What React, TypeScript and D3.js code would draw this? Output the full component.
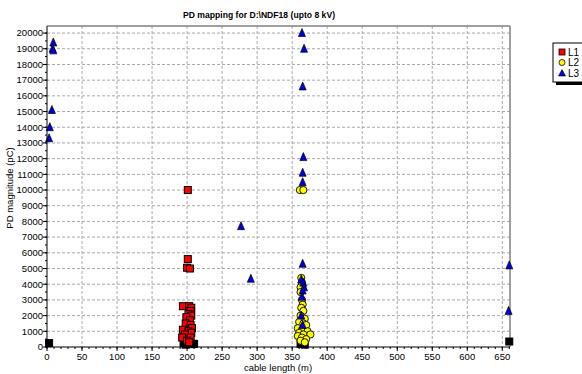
import React from "react";
import * as d3 from "d3";

// PD mapping data: [cable length (m), magnitude (pC)]
const l1Points: [number, number][] = [
  [201, 10000], [201, 5600], [200, 5050], [204, 5000],
  [194, 2600], [203, 2600], [206, 2500], [205, 2300], [202, 2100], [206, 2000],
  [199, 1900], [204, 1700], [198, 1500], [205, 1400], [207, 1200], [194, 1100],
  [202, 1000], [206, 900], [197, 800], [193, 600], [205, 600], [200, 400], [203, 300],
];
const l2Points: [number, number][] = [
  [361, 10000], [366, 10000],
  [363, 4400], [364, 4100], [362, 3800], [362, 3500], [364, 3000], [365, 2700],
  [363, 2500], [366, 2300], [362, 2000], [368, 1800], [360, 1600], [366, 1500],
  [370, 1400], [358, 1200], [364, 1100], [372, 1000], [360, 900], [366, 800],
  [376, 800], [358, 700], [364, 600], [370, 500], [362, 400], [368, 300],
];
const l3Points: [number, number][] = [
  [9, 19400], [8, 19000], [9, 18900], [7, 15100], [4, 14000], [3, 13300],
  [364, 20000], [367, 19000], [365, 16600], [366, 12100], [365, 11100], [365, 10500],
  [277, 7700], [291, 4350],
  [365, 5300], [363, 4300], [366, 4100], [367, 3800], [365, 3600], [364, 3200],
  [363, 2000], [365, 1400],
  [660, 5200], [659, 2300],
];
// unassigned low-level pulses drawn in black
const noisePoints: [number, number][] = [
  [3, 250], [195, 250], [200, 200], [205, 250], [210, 200], [198, 150], [207, 180],
  [362, 200], [366, 250], [368, 150], [660, 350],
];

const xTicks = d3.range(0, 651, 50);
const yTicks = d3.range(0, 20001, 1000);
const legendItems = ["L1", "L2", "L3"];

const W = 582;
const H = 374;
const left = 47, right = 510, top = 26, bottom = 347;

const x = d3.scaleLinear().domain([0, 661]).range([left, right]);
const y = d3.scaleLinear().domain([0, 20450]).range([bottom, top]);

const font = "'Liberation Sans', Arial, sans-serif";

const Square = ({ cx, cy, fill }: { cx: number; cy: number; fill: string }) => (
  <rect x={cx - 3.5} y={cy - 3.5} width={7} height={7} fill={fill} stroke="#000" strokeWidth={1} />
);
const Circle = ({ cx, cy }: { cx: number; cy: number }) => (
  <circle cx={cx} cy={cy} r={3.6} fill="#ffff00" stroke="#000" strokeWidth={0.9} />
);
const Tri = ({ cx, cy }: { cx: number; cy: number }) => (
  <path d={`M${cx},${cy - 4.5}L${cx + 3.5},${cy + 3.5}L${cx - 3.5},${cy + 3.5}Z`} fill="#0000dd" stroke="#000" strokeWidth={0.7} />
);

export default function App() {
  const minorX = d3.range(0, 661, 10);
  const minorY = d3.range(0, 20401, 500);
  return (
    <svg width={W} height={H} style={{ position: "absolute", left: 0, top: 0, background: "#fff" }} fontFamily={font}>
      <rect width={W} height={H} fill="#fff" />
      {/* grid */}
      {xTicks.filter((t) => t > 0).map((t) => (
        <line key={"gx" + t} x1={x(t)} x2={x(t)} y1={top} y2={bottom} stroke="#a8a8a8" strokeDasharray="3,2" />
      ))}
      {yTicks.filter((t) => t > 0).map((t) => (
        <line key={"gy" + t} x1={left} x2={right} y1={y(t)} y2={y(t)} stroke="#a8a8a8" strokeDasharray="3,2" />
      ))}
      {/* frame */}
      <line x1={left} x2={right} y1={top} y2={top} stroke="#808080" strokeWidth={1.5} />
      <line x1={right} x2={right} y1={top} y2={bottom} stroke="#808080" strokeWidth={1.5} />

      {/* points */}
      {noisePoints.map(([a, b], i) => <Square key={"n" + i} cx={x(a)} cy={y(b)} fill="#000" />)}
      {l1Points.map(([a, b], i) => <Square key={"a" + i} cx={x(a)} cy={y(b)} fill="#ff0000" />)}
      {l2Points.map(([a, b], i) => <Circle key={"b" + i} cx={x(a)} cy={y(b)} />)}
      {l3Points.map(([a, b], i) => <Tri key={"c" + i} cx={x(a)} cy={y(b)} />)}

      {/* axes */}
      <line x1={left} x2={left} y1={top} y2={bottom} stroke="#000" />
      <line x1={left} x2={right} y1={bottom} y2={bottom} stroke="#000" />
      {minorY.map((t) => (
        <line key={"my" + t} x1={left - 2} x2={left} y1={y(t)} y2={y(t)} stroke="#000" />
      ))}
      {minorX.map((t) => (
        <line key={"mx" + t} x1={x(t)} x2={x(t)} y1={bottom} y2={bottom + 2} stroke="#000" />
      ))}
      {yTicks.map((t) => (
        <g key={"ty" + t}>
          <line x1={left - 4} x2={left} y1={y(t)} y2={y(t)} stroke="#000" />
          <text x={left - 4} y={y(t)} dy="0.35em" textAnchor="end" fontSize={9.5} fill="#000">{t}</text>
        </g>
      ))}
      {xTicks.map((t) => (
        <g key={"tx" + t}>
          <line x1={x(t)} x2={x(t)} y1={bottom} y2={bottom + 4} stroke="#000" />
          <text x={x(t)} y={bottom + 13} textAnchor="middle" fontSize={9.5} fill="#000">{t}</text>
        </g>
      ))}

      {/* titles */}
      <text x={259} y={18} textAnchor="middle" fontSize={9.5} fontWeight="bold" textLength={152} lengthAdjust="spacingAndGlyphs">PD mapping for D:\NDF18 (upto 8 kV)</text>
      <text x={278} y={371} textAnchor="middle" fontSize={9.5}>cable length (m)</text>
      <text transform={`translate(13,188) rotate(-90)`} textAnchor="middle" fontSize={9.5}>PD magnitude (pC)</text>

      {/* legend */}
      <rect x={556} y={46} width={40} height={39} fill="#000" />
      <rect x={553} y={43} width={40} height={39} fill="#fff" stroke="#000" />
      {legendItems.map((name, i) => {
        const cy = 52 + i * 10.5;
        return (
          <g key={name}>
            {i === 0 && <rect x={559} y={cy - 3} width={6} height={6} fill="#ff0000" stroke="#000" strokeWidth={0.8} />}
            {i === 1 && <circle cx={562} cy={cy} r={3} fill="#ffff00" stroke="#000" strokeWidth={0.8} />}
            {i === 2 && <path d={`M562,${cy - 3.5}L565.5,${cy + 3}L558.5,${cy + 3}Z`} fill="#0000dd" stroke="#000" strokeWidth={0.6} />}
            <text x={568} y={cy} dy="0.35em" fontSize={10}>{name}</text>
          </g>
        );
      })}
    </svg>
  );
}
